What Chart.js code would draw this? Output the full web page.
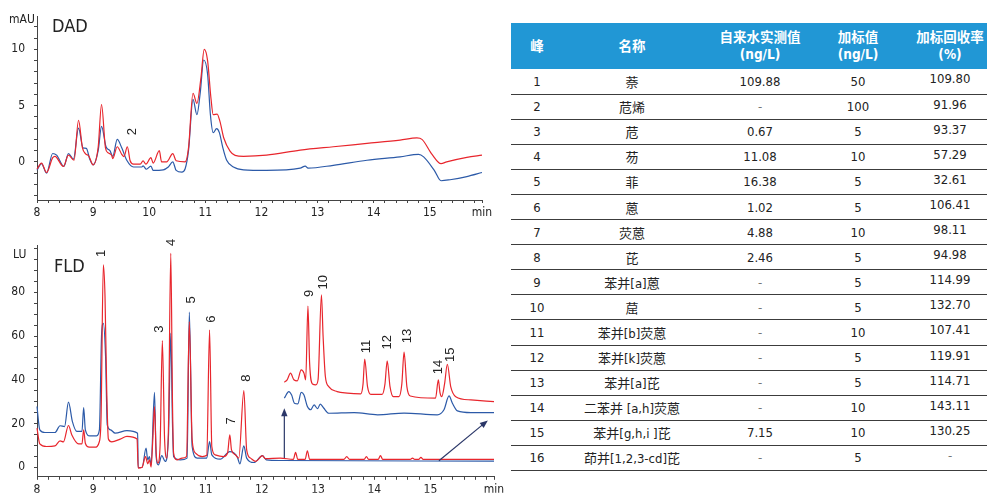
<!DOCTYPE html>
<html>
<head>
<meta charset="utf-8">
<script src="https://cdn.jsdelivr.net/npm/chart.js@4.4.1/dist/chart.umd.min.js"></script>
<style>
  html, body { margin: 0; padding: 0; background: #fff; }
  body { width: 987px; height: 493px; position: relative; overflow: hidden; }
  canvas { position: absolute; left: 0; }
  #dad { top: 0; }
  #fld { top: 225px; }
  #recov {
    position: absolute; left: 511px; top: 23px; width: 476px;
    border-collapse: collapse; table-layout: fixed;
    font-family: "Liberation Sans Narrow", "DejaVu Sans Condensed", "Noto Sans CJK SC", sans-serif;
    font-size: 13px; color: #222;
  }
  #recov thead tr { height: 46px; }
  #recov tbody tr { height: 25.1px; }
  #recov th {
    background: #2197d5; color: #fff; font-weight: bold;
    padding: 0; line-height: 17px; font-size: 13.5px;
  }
  #recov td {
    padding: 0; text-align: center;
    border-bottom: 1.6px solid #3c3c3c;
  }
  #recov td.rec { vertical-align: top; padding-top: 2px; }
  #recov .c4 { padding-right: 16px; }
  #recov td.dash { color: #777; }
</style>
</head>
<body>
<canvas id="dad" width="500" height="222"></canvas>
<canvas id="fld" width="510" height="268"></canvas>
<table id="recov">
  <colgroup>
    <col style="width:52px"><col style="width:138px"><col style="width:118px"><col style="width:94px"><col style="width:74px">
  </colgroup>
  <thead>
    <tr><th>峰</th><th>名称</th><th>自来水实测值<br>(ng/L)</th><th class="c4">加标值<br>(ng/L)</th><th>加标回收率<br>(%)</th></tr>
  </thead>
  <tbody></tbody>
</table>
<script>
// DAD traces [time min, mAU]
const dadRed = [
  [8.00,-0.64],[8.08,-0.1],[8.17,-0.94],[8.28,0.38],[8.32,0.5],[8.47,-0.4],[8.56,0.6],[8.66,0.15],
  [8.74,3.7],[8.81,1.25],[8.87,0.7],[8.92,0.55],[9.00,-0.26],[9.09,1.3],[9.15,5.1],[9.22,1.25],
  [9.27,0.8],[9.33,0.6],[9.35,0.3],[9.43,1.35],[9.51,0.68],[9.55,0.47],[9.61,1.35],[9.66,0.1],
  [9.72,-0.2],[9.84,-0.2],[9.89,0.1],[9.94,-0.2],[10.03,0.38],[10.07,-0.1],[10.18,1.0],[10.22,0.0],
  [10.31,0.0],[10.42,0.73],[10.48,0.1],[10.64,0.0],[10.70,1.25],[10.78,6.1],[10.85,5.2],[10.92,7.4],
  [10.98,10.0],[11.04,9.0],[11.10,5.65],[11.14,4.2],[11.21,4.25],[11.26,3.6],[11.33,2.1],[11.44,0.96],
  [11.53,0.58],[11.68,0.5],[12.09,0.6],[12.69,1.05],[13.28,1.35],[13.88,1.64],[14.47,1.93],[14.77,2.13],
  [14.86,2.0],[15.04,0.67],[15.20,-0.15],[15.30,0.0],[15.66,0.4],[15.93,0.6]
];
const dadBlue = [
  [8.00,-0.74],[8.08,-0.15],[8.17,-1.0],[8.28,0.75],[8.35,0.6],[8.48,-0.4],[8.56,0.75],[8.65,0.25],
  [8.74,3.0],[8.82,1.25],[8.88,1.2],[8.94,0.25],[9.00,-0.26],[9.09,1.0],[9.15,3.15],[9.23,1.35],
  [9.30,1.0],[9.35,0.5],[9.43,2.0],[9.51,1.25],[9.60,0.15],[9.72,-0.45],[9.87,-0.45],[9.89,-0.35],
  [9.95,-0.65],[10.03,-0.37],[10.07,-0.75],[10.25,-0.7],[10.34,-0.45],[10.42,0.0],[10.48,-0.75],
  [10.58,-0.9],[10.64,-0.6],[10.70,1.0],[10.78,5.55],[10.85,4.2],[10.91,6.2],[10.97,9.05],[11.04,7.8],
  [11.09,4.2],[11.14,2.6],[11.20,2.95],[11.25,2.6],[11.31,1.3],[11.38,0.15],[11.50,-0.45],[11.68,-0.7],
  [12.09,-0.75],[12.69,-0.55],[12.78,-0.37],[12.83,-0.55],[13.28,-0.3],[13.88,0.15],[14.47,0.45],
  [14.80,0.67],[14.89,0.45],[15.08,-0.75],[15.20,-1.67],[15.36,-1.58],[15.66,-1.3],[15.93,-0.94]
];

// FLD traces [time min, LU]
const fldRed = [
  [8.00,17.9],[8.05,10.7],[8.17,9.5],[8.32,9.8],[8.41,12.1],[8.47,11.6],[8.56,19.1],[8.62,14.8],
  [8.74,10.7],[8.80,10.7],[8.83,17.1],[8.86,11.0],[8.93,9.2],[9.03,9.2],[9.11,11.8],[9.14,23.2],
  [9.18,92.5],[9.21,78.0],[9.24,35.4],[9.27,12.9],[9.33,11.6],[9.48,12.9],[9.60,14.1],[9.78,12.9],
  [9.80,-0.4],[9.87,0.0],[9.93,4.9],[9.97,1.6],[10.00,3.4],[10.03,0.1],[10.06,12.6],[10.09,27.8],
  [10.12,6.5],[10.15,1.9],[10.19,10.0],[10.23,57.9],[10.27,12.6],[10.31,4.2],[10.34,20.0],[10.38,97.8],
  [10.41,30.0],[10.43,6.5],[10.49,3.4],[10.58,4.2],[10.66,4.9],[10.71,66.6],[10.76,12.6],[10.82,6.5],
  [10.94,4.9],[11.02,5.5],[11.07,62.8],[11.11,9.5],[11.17,5.7],[11.32,4.9],[11.39,6.5],[11.43,14.8],
  [11.46,8.0],[11.53,5.7],[11.59,4.2],[11.68,35.1],[11.73,8.0],[11.80,4.2],[11.89,2.7],[12.01,5.3],
  [12.06,4.0],[12.33,4.2],[12.56,3.6],[12.60,6.8],[12.64,3.6],[12.77,3.6],[12.81,7.5],[12.85,3.6],
  [13.46,3.6],[13.51,4.9],[13.56,3.6],[13.82,3.6],[13.86,4.9],[13.90,3.6],[14.07,3.6],[14.11,5.4],
  [14.15,3.6],[14.64,3.6],[14.68,4.2],[14.72,3.6],[14.79,3.6],[14.83,4.5],[14.87,3.6],[16.13,3.6]
];
const fldBlue = [
  [8.00,27.8],[8.05,17.1],[8.14,15.9],[8.32,15.9],[8.41,19.0],[8.49,18.6],[8.56,29.8],[8.63,20.9],
  [8.71,16.4],[8.80,16.4],[8.83,27.3],[8.86,17.1],[8.94,14.4],[9.06,14.4],[9.11,17.1],[9.15,61.3],
  [9.18,65.8],[9.22,50.6],[9.25,19.4],[9.31,17.1],[9.39,15.6],[9.60,16.8],[9.79,15.6],[9.80,-0.1],
  [9.87,-0.1],[9.94,8.8],[9.97,3.4],[10.00,4.9],[10.03,1.1],[10.09,34.2],[10.12,4.9],[10.16,1.1],
  [10.22,5.3],[10.28,2.7],[10.34,15.0],[10.38,61.3],[10.41,20.0],[10.43,4.9],[10.55,3.4],[10.67,4.2],
  [10.71,70.9],[10.76,9.5],[10.85,4.2],[11.02,4.2],[11.07,11.8],[11.11,5.7],[11.26,3.7],[11.43,7.2],
  [11.56,4.9],[11.61,1.6],[11.68,9.8],[11.73,4.2],[11.86,2.2],[12.01,5.3],[12.08,3.4],[12.33,3.1],
  [16.13,2.8]
];
// expanded view of the late-eluting region, lifted above the baseline
const fldRedZoom = [
  [12.40,38.9],[12.45,40.0],[12.51,43.0],[12.57,40.0],[12.63,39.5],[12.70,44.5],[12.75,43.0],[12.78,40.0],
  [12.82,73.7],[12.85,47.6],[12.90,38.1],[12.96,37.7],[13.00,40.0],[13.06,78.8],[13.09,59.7],[13.13,41.5],
  [13.19,36.9],[13.34,34.6],[13.52,33.9],[13.76,33.6],[13.80,38.0],[13.83,49.5],[13.88,36.9],[13.94,33.3],
  [14.14,33.3],[14.19,38.0],[14.23,48.6],[14.28,36.9],[14.34,32.3],[14.44,32.3],[14.49,38.0],[14.53,52.6],
  [14.58,36.9],[14.64,32.6],[15.09,31.6],[15.14,40.0],[15.17,34.0],[15.20,32.3],[15.25,38.0],[15.30,47.1],
  [15.36,36.9],[15.45,32.3],[15.72,30.8],[16.13,30.0]
];
const fldBlueZoom = [
  [12.40,31.6],[12.48,34.6],[12.53,33.0],[12.58,29.3],[12.64,29.0],[12.70,34.2],[12.75,33.0],[12.81,27.8],
  [12.87,26.3],[12.93,28.5],[12.99,26.8],[13.04,28.9],[13.10,27.1],[13.19,24.7],[13.64,25.0],[14.06,24.0],
  [14.53,24.8],[15.12,24.0],[15.24,26.3],[15.33,32.6],[15.39,29.3],[15.48,25.8],[15.72,25.0],[16.13,25.0]
];

// peak numbers and where they sit [time, height]
const dadPeakNo = ['2'];
const dadPeakAt = [[9.70, 2.7]];
const fldPeakNo = ['1','3','4','5','6','7','8','9','10','11','12','13','14','15'];
const fldPeakAt = [
  [9.15,97.8],[10.18,63.2],[10.40,102.8],[10.74,76.5],[11.11,67.7],[11.45,21.2],[11.72,40.7],
  [12.84,79.5],[13.09,84.6],[13.86,55.2],[14.24,57.2],[14.59,60.0],[15.15,45.8],[15.36,51.4]
];

// recovery table
const peakNo = ['1','2','3','4','5','6','7','8','9','10','11','12','13','14','15','16'];
const compound = ['萘','苊烯','苊','芴','菲','蒽','荧蒽','芘','苯并[a]蒽','䓛','苯并[b]荧蒽','苯并[k]荧蒽','苯并[a]芘','二苯并 [a,h]荧蒽','苯并[g,h,i ]芘','茚并[1,2,3-cd]芘'];
const tapWater = ['109.88','-','0.67','11.08','16.38','1.02','4.88','2.46','-','-','-','-','-','-','7.15','-'];
const spiked = ['50','100','5','10','5','5','10','5','5','5','10','5','5','10','10','5'];
const recovery = ['109.80','91.96','93.37','57.29','32.61','106.41','98.11','94.98','114.99','132.70','107.41','119.91','114.71','143.11','130.25','-'];

const tbody = document.querySelector('#recov tbody');
peakNo.forEach((p, i) => {
  const tr = document.createElement('tr');
  [[p,''],[compound[i],''],[tapWater[i],''],[spiked[i],'c4'],[recovery[i],'rec']].forEach(([txt, cls]) => {
    const td = document.createElement('td');
    td.textContent = txt;
    if (cls) td.className = cls;
    if (txt === '-') td.classList.add('dash');
    tr.appendChild(td);
  });
  tbody.appendChild(tr);
});

const RED = '#e8262d';
const BLUE = '#2c5aa8';
const FONT = '"Liberation Sans Narrow", "DejaVu Sans Condensed", sans-serif';
const toXY = arr => arr.map(([x, y]) => ({x, y}));

function trace(points, color) {
  return {
    data: toXY(points), borderColor: color, borderWidth: 1.2,
    pointRadius: 0, fill: false, cubicInterpolationMode: 'monotone', clip: false
  };
}

function drawArrow(ctx, x1, y1, x2, y2) {
  const a = Math.atan2(y2 - y1, x2 - x1);
  ctx.beginPath();
  ctx.moveTo(x1, y1);
  ctx.lineTo(x2 - 5 * Math.cos(a), y2 - 5 * Math.sin(a));
  ctx.stroke();
  ctx.beginPath();
  ctx.moveTo(x2, y2);
  ctx.lineTo(x2 - 8 * Math.cos(a) + 3.2 * Math.sin(a), y2 - 8 * Math.sin(a) - 3.2 * Math.cos(a));
  ctx.lineTo(x2 - 8 * Math.cos(a) - 3.2 * Math.sin(a), y2 - 8 * Math.sin(a) + 3.2 * Math.cos(a));
  ctx.closePath();
  ctx.fill();
}

const annotate = {
  id: 'annotate',
  afterDatasetsDraw(chart, args, o) {
    const ctx = chart.ctx, xs = chart.scales.x, ys = chart.scales.y;
    ctx.save();
    ctx.fillStyle = '#222';
    ctx.textAlign = 'left';
    ctx.textBaseline = 'alphabetic';
    ctx.font = '18px ' + FONT;
    ctx.fillText(o.title, o.titlePos[0], o.titlePos[1]);
    ctx.font = '12px ' + FONT;
    ctx.fillText(o.unit, o.unitPos[0], o.unitPos[1]);

    ctx.font = '13px "Liberation Sans", Arial, sans-serif';
    ctx.textAlign = 'center';
    ctx.textBaseline = 'middle';
    o.peakNo.forEach((n, i) => {
      ctx.save();
      ctx.translate(xs.getPixelForValue(o.peakAt[i][0]), ys.getPixelForValue(o.peakAt[i][1]));
      ctx.rotate(-Math.PI / 2);
      ctx.fillText(n, 0, 0);
      ctx.restore();
    });

    ctx.strokeStyle = '#2b3768';
    ctx.fillStyle = '#2b3768';
    ctx.lineWidth = 1.2;
    (o.arrows || []).forEach(([t1, v1, t2, v2]) => {
      drawArrow(ctx, xs.getPixelForValue(t1), ys.getPixelForValue(v1),
                xs.getPixelForValue(t2), ys.getPixelForValue(v2));
    });
    ctx.restore();
  }
};

function timeAxis(max, axisHeight) {
  return {
    type: 'linear', min: 8, max: max,
    afterBuildTicks(scale) {
      const ticks = [];
      for (let i = 0; 8 + i * 0.2 <= max + 1e-9; i++) {
        ticks.push({value: Math.round((8 + i * 0.2) * 10) / 10});
      }
      if (ticks[ticks.length - 1].value < max) ticks.push({value: max});
      scale.ticks = ticks;
    },
    afterFit(scale) { scale.height = axisHeight; },
    border: {display: true, color: '#444', width: 1},
    grid: {drawOnChartArea: false, drawTicks: true, tickLength: 3, color: '#444'},
    ticks: {
      autoSkip: false, maxRotation: 0, padding: 3, color: '#222',
      font: {family: FONT, size: 12},
      callback(v) {
        if (v === max) return 'min';
        return (Number.isInteger(v) && v < 16) ? String(v) : '';
      }
    }
  };
}

function signalAxis(min, max, step, labelEvery, topLabelled) {
  return {
    type: 'linear', min: min, max: max,
    afterFit(scale) { scale.width = 37; },
    border: {display: true, color: '#444', width: 1},
    grid: {drawOnChartArea: false, drawTicks: true, tickLength: 3, color: '#444'},
    ticks: {
      stepSize: step, includeBounds: false, autoSkip: false, padding: 9, color: '#222',
      font: {family: FONT, size: 12},
      callback(v) { return (v % labelEvery === 0 && v <= topLabelled) ? String(v) : ''; }
    }
  };
}

new Chart(document.getElementById('dad'), {
  type: 'line',
  data: {datasets: [trace(dadRed, RED), trace(dadBlue, BLUE)]},
  options: {
    responsive: false, animation: false,
    layout: {padding: {top: 13, right: 18, left: 0, bottom: 0}},
    scales: {x: timeAxis(15.93, 22), y: signalAxis(-3.38, 12.94, 1, 5, 10)},
    plugins: {
      legend: {display: false}, tooltip: {enabled: false},
      annotate: {title: 'DAD', titlePos: [52, 32], unit: 'mAU', unitPos: [9, 23],
                 peakNo: dadPeakNo, peakAt: dadPeakAt}
    }
  },
  plugins: [annotate]
});

new Chart(document.getElementById('fld'), {
  type: 'line',
  data: {datasets: [
    trace(fldRed, RED), trace(fldBlue, BLUE),
    trace(fldRedZoom, RED), trace(fldBlueZoom, BLUE)
  ]},
  options: {
    responsive: false, animation: false,
    layout: {padding: {top: 20, right: 16, left: 0, bottom: 0}},
    scales: {x: timeAxis(16.13, 16), y: signalAxis(-4.34, 101.6, 5, 20, 80)},
    plugins: {
      legend: {display: false}, tooltip: {enabled: false},
      annotate: {title: 'FLD', titlePos: [54, 47], unit: 'LU', unitPos: [13, 33],
                 peakNo: fldPeakNo, peakAt: fldPeakAt,
                 arrows: [[12.40, 4.2, 12.40, 27.0], [15.15, 3.0, 16.02, 21.4]]}
    }
  },
  plugins: [annotate]
});
</script>
</body>
</html>
